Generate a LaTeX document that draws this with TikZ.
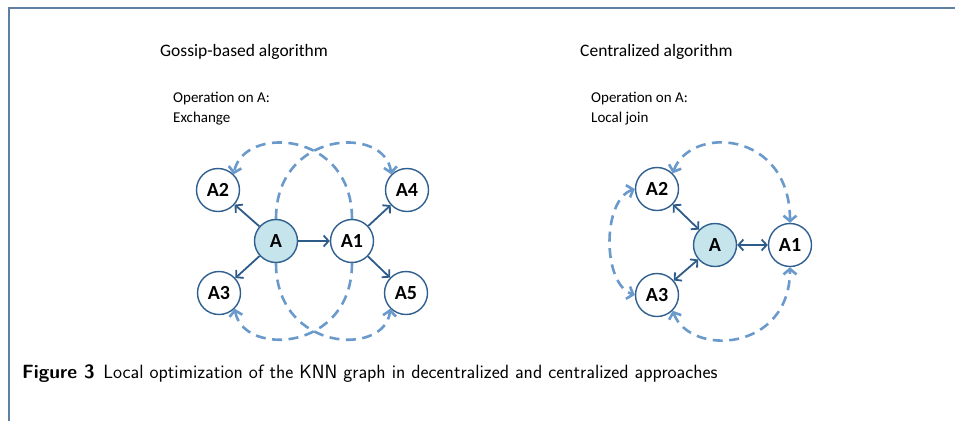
\documentclass[tikz,border=0pt]{standalone}
\usepackage{fontspec}
\setmainfont{Carlito}
\usetikzlibrary{arrows.meta}
\definecolor{framec}{HTML}{5F7FA3}
\definecolor{nodeline}{HTML}{2F5F8F}
\definecolor{nodefill}{HTML}{C6E4EC}
\definecolor{solidarr}{HTML}{2E5C8A}
\definecolor{dasharr}{HTML}{6A9ACB}
\tikzset{
  peer/.style={circle, draw=nodeline, line width=1.4pt, fill=white, minimum size=43pt, inner sep=0pt, font=\fontsize{20}{22}\selectfont\bfseries},
  center/.style={peer, fill=nodefill},
  link/.style={draw=solidarr, line width=1.8pt, -{Straight Barb[length=5pt,width=11pt]}},
  blink/.style={draw=solidarr, line width=1.8pt, {Straight Barb[length=5pt,width=11pt]}-{Straight Barb[length=5pt,width=11pt]}},
  gossip/.style={draw=dasharr, line width=2.6pt, dash pattern=on 10pt off 6.5pt, -{Straight Barb[length=5.5pt,width=13pt]}},
  bgossip/.style={gossip, {Straight Barb[length=5.5pt,width=13pt]}-{Straight Barb[length=5.5pt,width=13pt]}},
  heading/.style={anchor=base west, inner sep=0pt, font=\fontsize{17.5}{20}\selectfont},
  note/.style={anchor=base west, inner sep=0pt, font=\fontsize{15}{18}\selectfont},
}
\begin{document}
\begin{tikzpicture}[x=1pt,y=-1pt]
\useasboundingbox (0,0) rectangle (955,421);
% frame lines
\draw[framec, line width=1.4pt] (9,421) -- (9,8) -- (955,8);

% headings
\node[heading] (t1) at (160,56) {Gossip-based algorithm};
\node[heading] (t2) at (580,56) {Centralized algorithm};
\node[note] (n1) at (173,102) {Operation on A:};
\node[note] (n1b) at (173,122) {Exchange};
\node[note] (n2) at (591,102) {Operation on A:};
\node[note] (n2b) at (591,122) {Local join};

% gossip-based graph
\node[center] (a)  at (276,241) {A};
\node[peer]   (a1) at (352,241) {A1};
\node[peer]   (a2) at (218,190) {A2};
\node[peer]   (a3) at (219,293) {A3};
\node[peer]   (a4) at (407,190) {A4};
\node[peer]   (a5) at (406,293) {A5};
\draw[link] (a) -- (a1);
\draw[link] (a) -- (a2);
\draw[link] (a) -- (a3);
\draw[link] (a1) -- (a4);
\draw[link] (a1) -- (a5);
\draw[gossip] (a.north)  .. controls (276,130) and (385,125) .. (a4.north west);
\draw[gossip] (a1.north) .. controls (352,130) and (243,125) .. (a2.north east);
\draw[gossip] (a.south)  .. controls (276,352) and (385,357) .. (a5.south west);
\draw[gossip] (a1.south) .. controls (352,352) and (243,357) .. (a3.south east);

% centralized graph
\node[center] (b)  at (715,245) {A};
\node[peer]   (b1) at (790,245) {A1};
\node[peer]   (b2) at (657,189) {A2};
\node[peer]   (b3) at (657,295) {A3};
\draw[blink] (b) -- (b1);
\draw[blink] (b) -- (b2);
\draw[blink] (b) -- (b3);
\draw[bgossip] (b2.north east) .. controls (690,125) and (790,130) .. (b1.north);
\draw[bgossip] (b2.west) .. controls (602,200) and (602,284) .. (b3.west);
\draw[bgossip] (b3.south east) .. controls (690,357) and (790,352) .. (b1.south);

% caption
\node[anchor=base west, inner sep=0pt, font=\sffamily\fontsize{19.2}{22}\selectfont] (cap) at (22,378)
  {\textbf{Figure 3}\hspace{0.45em}Local optimization of the KNN graph in decentralized and centralized approaches};
\end{tikzpicture}
\end{document}
